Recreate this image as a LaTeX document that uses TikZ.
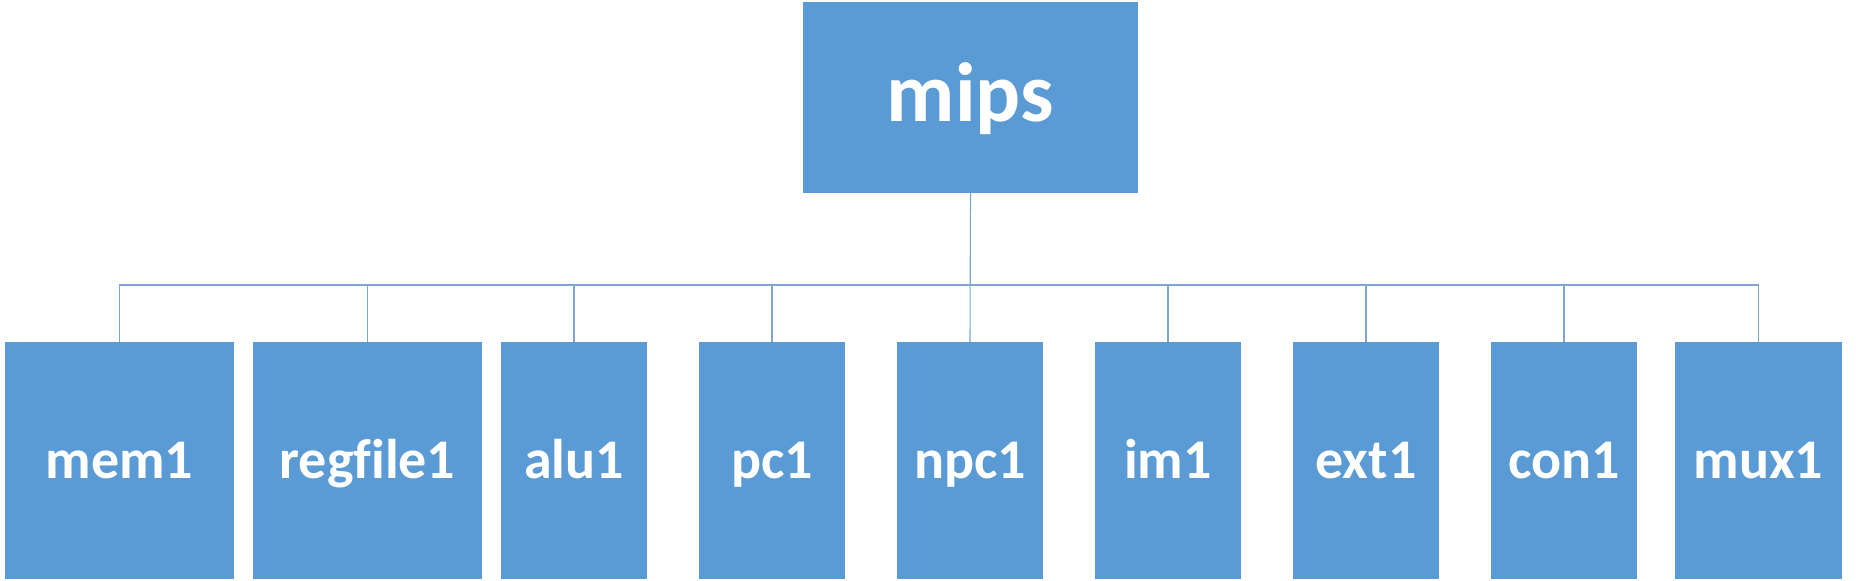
\documentclass[tikz,border=0pt]{standalone}
\usepackage{fontspec}
\setmainfont{Carlito}[Ligatures={NoCommon}]
\definecolor{boxblue}{HTML}{5B9BD5}
\definecolor{lineblue}{HTML}{7DA6D0}
\begin{document}
\begin{tikzpicture}[x=1pt,y=-1pt,
  topbox/.style={fill=boxblue, draw=none, inner sep=0pt, minimum width=335pt, minimum height=191pt,
    text=white, font=\bfseries\fontsize{84}{90}\selectfont, text height=48pt, text depth=0pt},
  leafbox/.style={fill=boxblue, draw=none, inner sep=0pt, minimum height=237pt,
    text=white, font=\bfseries\fontsize{56}{62}\selectfont, text height=36pt, text depth=0pt},
  link/.style={draw=lineblue, line width=1.1pt}]
\useasboundingbox (0,0) rectangle (1856,581);
\node[topbox] (mips) at (970.5,97.5) {mips};
\node[leafbox, minimum width=229pt] (mem) at (119.5,460.5) {mem1};
\node[leafbox, minimum width=229pt] (regfile) at (367.5,460.5) {regf\kern0pt ile1};
\node[leafbox, minimum width=146pt] (alu) at (574,460.5) {alu1};
\node[leafbox, minimum width=146pt] (pc) at (772,460.5) {pc1};
\node[leafbox, minimum width=146pt] (npc) at (970,460.5) {npc1};
\node[leafbox, minimum width=146pt] (im) at (1168,460.5) {im1};
\node[leafbox, minimum width=146pt] (ext) at (1366,460.5) {ext1};
\node[leafbox, minimum width=146pt] (con) at (1564,460.5) {con1};
\node[leafbox, minimum width=167pt] (mux) at (1758.5,460.5) {mux1};
\coordinate (bus) at (970,285);
\draw[link] (mips.south) -- (npc.north);
\draw[link] (mem.north) -- (mem.north |- bus) -- (mux.north |- bus) -- (mux.north);
\foreach \n in {regfile,alu,pc,im,ext,con}
  \draw[link] (\n.north |- bus) -- (\n.north);
\end{tikzpicture}
\end{document}
